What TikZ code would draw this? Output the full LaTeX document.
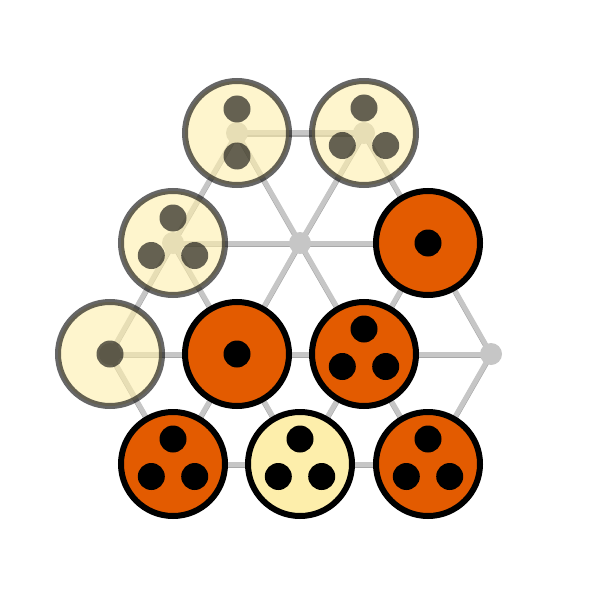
\documentclass[tikz,border=0pt]{standalone}
\definecolor{latgray}{HTML}{C6C6C6}
\definecolor{latdark}{HTML}{A8A8A8}
\definecolor{orangep}{HTML}{E35B00}
\definecolor{creamp}{HTML}{FDEEAB}
\begin{document}
\begin{tikzpicture}[x=1pt,y=-1pt,
  latt/.style={circle,fill=latgray,minimum size=22pt,inner sep=0pt},
  edgeline/.style={draw=latgray,line width=5pt},
  edgeshade/.style={draw=latdark,line width=5pt},
  piece/.style={circle,draw=black,line width=6pt,minimum size=104pt,inner sep=0pt},
  orangepiece/.style={piece,fill=orangep},
  creampiece/.style={piece,fill=creamp},
  fadedpiece/.style={piece,fill=creamp,opacity=0.6},
  pip/.style={fill=black},
  fadedpip/.style={fill=black,opacity=0.6}]
\useasboundingbox (0,0) rectangle (604,604);
% lattice points
\coordinate (A) at (237,133);
\coordinate (B) at (364,133);
\coordinate (C) at (173,243);
\coordinate (D) at (300,243);
\coordinate (E) at (428,243);
\coordinate (F) at (110,354);
\coordinate (G) at (237,354);
\coordinate (H) at (364,354);
\coordinate (I) at (491,354);
\coordinate (J) at (173,464);
\coordinate (K) at (300,464);
\coordinate (L) at (428,464);
% edges (shade then light)
\foreach \a/\b in {A/B,A/C,A/D,B/D,B/E,C/D,D/E,C/F,C/G,D/G,D/H,E/H,E/I,F/G,G/H,H/I,F/J,G/J,G/K,H/K,H/L,I/L,J/K,K/L}{
  \draw[edgeshade] ([yshift=-1.2pt]\a) -- ([yshift=-1.2pt]\b);
}
\foreach \a/\b in {A/B,A/C,A/D,B/D,B/E,C/D,D/E,C/F,C/G,D/G,D/H,E/H,E/I,F/G,G/H,H/I,F/J,G/J,G/K,H/K,H/L,I/L,J/K,K/L}{
  \draw[edgeline] (\a) -- (\b);
}
% lattice dots
\foreach \p in {A,B,C,D,E,F,G,H,I,J,K,L}{
  \node[latt] (n\p) at (\p) {};
}
% pieces
\node[fadedpiece] (pA) at (A) {};
\node[fadedpiece] (pB) at (B) {};
\node[fadedpiece] (pC) at (C) {};
\node[fadedpiece] (pF) at (F) {};
\node[orangepiece] (pE) at (E) {};
\node[orangepiece] (pG) at (G) {};
\node[orangepiece] (pH) at (H) {};
\node[orangepiece] (pJ) at (J) {};
\node[creampiece] (pK) at (K) {};
\node[orangepiece] (pL) at (L) {};
% pips
\fill[fadedpip] ([yshift=24pt]A) circle (13.5pt);
\fill[fadedpip] ([yshift=-23pt]A) circle (13.5pt);
\foreach \p in {B,C}{
  \fill[fadedpip] ([yshift=25pt]\p) circle (13.5pt);
  \fill[fadedpip] ([xshift=-21.7pt,yshift=-12.5pt]\p) circle (13.5pt);
  \fill[fadedpip] ([xshift=21.7pt,yshift=-12.5pt]\p) circle (13.5pt);
}
\fill[fadedpip] (F) circle (13.5pt);
\fill[pip] (E) circle (13.5pt);
\fill[pip] (G) circle (13.5pt);
\foreach \p in {H,J,K,L}{
  \fill[pip] ([yshift=25pt]\p) circle (13.5pt);
  \fill[pip] ([xshift=-21.7pt,yshift=-12.5pt]\p) circle (13.5pt);
  \fill[pip] ([xshift=21.7pt,yshift=-12.5pt]\p) circle (13.5pt);
}
\end{tikzpicture}
\end{document}
